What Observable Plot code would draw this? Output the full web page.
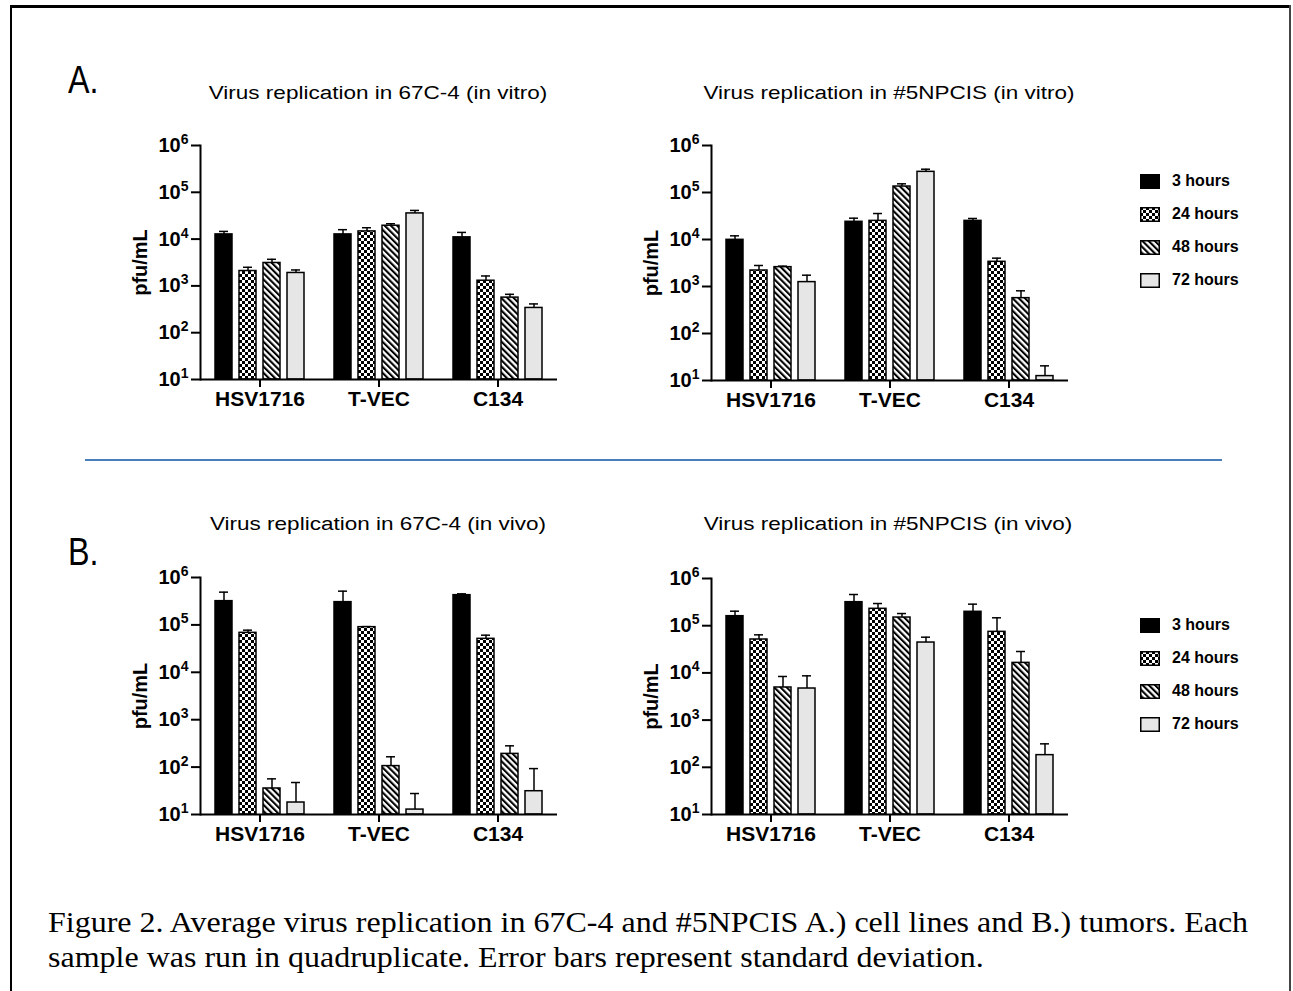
<!DOCTYPE html>
<html><head><meta charset="utf-8">
<script src="https://cdn.jsdelivr.net/npm/d3@7"></script>
<script src="https://cdn.jsdelivr.net/npm/@observablehq/plot@0.6"></script>
<style>
body{margin:0;background:#fff;}
#root{position:relative;width:1293px;height:991px;overflow:hidden;background:#fff;font-family:"Liberation Sans",Arial,sans-serif;color:#000;}
.abs{position:absolute;white-space:nowrap;}
.title{font-size:22.5px;line-height:22px;text-align:center;transform:translateX(-50%) scaleY(0.85);}
.panel-letter{font-size:38px;line-height:40px;transform:scaleX(0.85);transform-origin:left top;}
.legend-row{display:flex;align-items:center;font-size:16px;font-weight:bold;height:20px;}
.legend-row svg{margin-right:12px;}
.caption{font-family:"Liberation Serif","Times New Roman",serif;font-size:32px;line-height:39px;transform:scaleY(0.9);transform-origin:left top;}
</style></head><body>
<svg width="0" height="0" style="position:absolute">
  <defs>
    <pattern id="chk" width="6" height="6" patternUnits="userSpaceOnUse">
      <rect width="6" height="6" fill="#fff"/>
      <rect x="0" y="0" width="3" height="3" fill="#000"/>
      <rect x="3" y="3" width="3" height="3" fill="#000"/>
    </pattern>
    <pattern id="str" width="4.4" height="10" patternUnits="userSpaceOnUse" patternTransform="rotate(-45)">
      <rect width="4.4" height="10" fill="#fff"/>
      <rect x="0" y="0" width="2.1" height="10" fill="#000"/>
    </pattern>
  </defs>
</svg>
<div id="root"></div>
<script>
// ---------------- data ----------------
const viruses = ["HSV1716", "T-VEC", "C134"];
const times = ["3 hours", "24 hours", "48 hours", "72 hours"];
const fills = ["#000000", "url(#chk)", "url(#str)", "#e6e6e6"];
const yTicks = [10, 100, 1000, 10000, 100000, 1000000];

const titleA1 = "Virus replication in 67C-4 (in vitro)";
const titleA2 = "Virus replication in #5NPCIS (in vitro)";
const titleB1 = "Virus replication in 67C-4 (in vivo)";
const titleB2 = "Virus replication in #5NPCIS (in vivo)";
const yLabel = "pfu/mL";

// values ordered virus-major: HSV1716 (3,24,48,72h), T-VEC (...), C134 (...)
const meanA1 = [12600, 2080, 3090, 1890, 12600, 14600, 19300, 35400, 10900, 1290, 562, 338];
const sdA1   = [2000, 420, 610, 300, 3300, 2900, 2000, 5600, 3000, 340, 99, 74];

const meanA2 = [9840, 2190, 2580, 1240, 23800, 24900, 134000, 275000, 24900, 3350, 565, 12.4];
const sdA2   = [2130, 610, 130, 500, 4600, 10800, 19000, 38000, 3100, 660, 244, 8.1];

const meanB1 = [317000, 68000, 35.4, 17.9, 302000, 89600, 105, 12.7, 424000, 50800, 190, 31];
const sdB1   = [174000, 9400, 21.1, 29.4, 213000, 2400, 60, 15, 28000, 9900, 91, 62];

const meanB2 = [159000, 51000, 4910, 4670, 315000, 228000, 149000, 44000, 197000, 74100, 16300, 181];
const sdB2   = [44000, 13000, 3490, 4000, 143000, 67000, 32000, 13100, 89000, 72900, 12100, 133];

const captionLines = [
  "Figure 2. Average virus replication in 67C-4 and #5NPCIS A.) cell lines and B.) tumors. Each",
  "sample was run in quadruplicate. Error bars represent standard deviation."
];

// ---------------- layout ----------------
const root = document.getElementById("root");
function addDiv(cls, left, top, html, extra) {
  const d = document.createElement("div");
  d.className = "abs " + cls;
  d.style.left = left + "px";
  d.style.top = top + "px";
  if (extra) Object.assign(d.style, extra);
  d.innerHTML = html;
  root.appendChild(d);
  return d;
}

// border
addDiv("", 10, 5, "", {width: "1281px", height: "3px", background: "#000"});
addDiv("", 10, 5, "", {width: "2px", height: "986px", background: "#000"});
addDiv("", 1289, 5, "", {width: "2px", height: "986px", background: "#444"});

// separator line
addDiv("", 85, 459, "", {width: "1137px", height: "1.5px", background: "#4a7ebb"});

function rowsOf(mean, sd) {
  const rows = [];
  viruses.forEach((v, i) => times.forEach((t, j) => {
    const k = i * times.length + j;
    rows.push({virus: v, time: t, mean: mean[k], top: mean[k] + sd[k]});
  }));
  return rows;
}

const ML = 90, MR = 15, MT = 30, MB = 45;
function panel(mean, sd, axisX, xEnd, yTop, yBottom) {
  const rows = rowsOf(mean, sd);
  const chart = Plot.plot({
    width: (xEnd - axisX) + ML + MR,
    height: (yBottom - yTop) + MT + MB,
    marginLeft: ML, marginRight: MR, marginTop: MT, marginBottom: MB,
    style: {fontFamily: "'Liberation Sans', Arial, sans-serif", fontSize: "20px", color: "#000", background: "transparent", overflow: "visible"},
    fx: {domain: viruses, padding: 0, label: null},
    x: {domain: times, paddingInner: 0.3, paddingOuter: 0.55, axis: null},
    y: {type: "log", domain: [yTicks[0], yTicks[yTicks.length - 1]], label: null},
    color: {type: "ordinal", domain: times, range: fills},
    marks: [
      Plot.ruleX(rows, {fx: "virus", x: "time", y1: "mean", y2: "top", stroke: "#000", strokeWidth: 1.5}),
      Plot.tickY(rows, {fx: "virus", x: "time", y: "top", insetLeft: 4, insetRight: 4, stroke: "#000", strokeWidth: 1.5}),
      Plot.barY(rows, {fx: "virus", x: "time", y1: yTicks[0], y2: "mean", fill: "time", stroke: "#000", strokeWidth: 1.5}),
      Plot.frame({anchor: "left", facetAnchor: "left", stroke: "#000", strokeWidth: 2}),
      Plot.ruleY([yTicks[0]], {stroke: "#000", strokeWidth: 2}),
      Plot.axisY({ticks: yTicks, tickFormat: d => "10^" + Math.round(Math.log10(d)), tickSize: 9, tickPadding: 3,
        stroke: "#000", strokeWidth: 2, fontWeight: "bold", label: yLabel, labelAnchor: "center", labelOffset: 68, labelArrow: "none"}),
      Plot.axisFx({anchor: "bottom", tickSize: 8, tickPadding: 4, stroke: "#000", strokeWidth: 2, label: null, fontSize: 21, fontWeight: "bold"})
    ]
  });
  // superscript exponents on y tick labels
  chart.querySelectorAll('g[aria-label="y-axis tick label"] text').forEach(t => {
    const m = /^10\^(\d+)$/.exec(t.textContent);
    if (!m) return;
    t.textContent = "";
    const a = document.createElementNS("http://www.w3.org/2000/svg", "tspan");
    a.textContent = "10";
    const b = document.createElementNS("http://www.w3.org/2000/svg", "tspan");
    b.textContent = m[1];
    b.setAttribute("font-size", "14");
    b.setAttribute("dy", "-8");
    t.appendChild(a); t.appendChild(b);
  });
  chart.querySelectorAll('g[aria-label="y-axis label"] text').forEach(t => t.setAttribute("font-weight", "bold"));
  chart.style.position = "absolute";
  chart.style.left = (axisX - ML) + "px";
  chart.style.top = (yTop - MT) + "px";
  root.appendChild(chart);
}

panel(meanA1, sdA1, 199, 557, 145, 379);
panel(meanA2, sdA2, 711, 1068, 145, 380);
panel(meanB1, sdB1, 199, 557, 577, 814);
panel(meanB2, sdB2, 711, 1068, 578, 814);

// titles and panel letters
addDiv("title", 378, 82, titleA1);
addDiv("title", 889, 82, titleA2);
addDiv("title", 378, 513, titleB1);
addDiv("title", 888, 513, titleB2);
addDiv("panel-letter", 68, 60, "A.");
addDiv("panel-letter", 68, 532, "B.");

// legends
function legend(top) {
  times.forEach((t, i) => {
    const row = addDiv("legend-row", 1140, top + i * 33, "");
    const svg = d3.select(row).append("svg").attr("width", 20).attr("height", 15);
    svg.append("rect").attr("x", 0.75).attr("y", 0.75).attr("width", 18.5).attr("height", 13.5)
      .attr("fill", fills[i]).attr("stroke", "#000").attr("stroke-width", 1.5);
    d3.select(row).append("span").text(t);
  });
}
legend(171);
legend(615);

// caption
addDiv("caption", 48, 905, captionLines.join("<br>"));
</script>
</body></html>
